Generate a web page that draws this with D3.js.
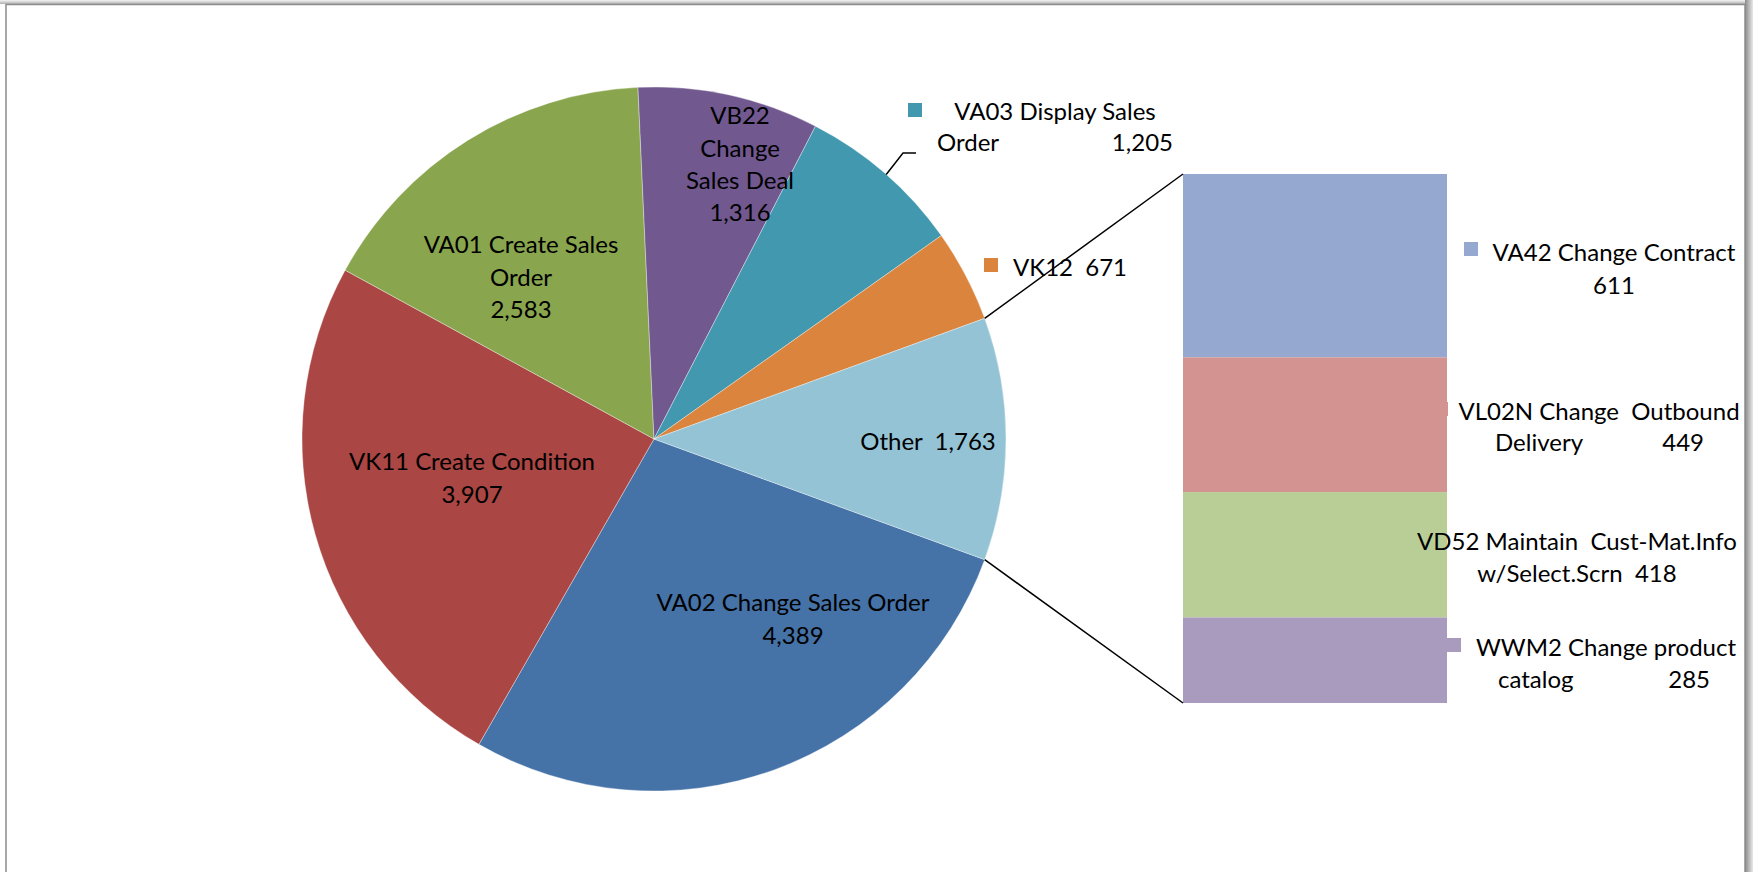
<!DOCTYPE html>
<html><head><meta charset="utf-8">
<script src="https://cdn.jsdelivr.net/npm/d3@7"></script>
<style>
html,body{margin:0;padding:0;background:#fff;}
svg{display:block;}
text{font-family:Lato, "Liberation Sans", sans-serif;fill:#000;white-space:pre;}
</style></head>
<body>
<svg id="chart" width="1753" height="872"></svg>
<script>
// ---- data ----
const pieCategories = ["VA02 Change Sales Order","VK11 Create Condition","VA01 Create Sales Order","VB22 Change Sales Deal","VA03 Display Sales Order","VK12","Other"];
const pieValues = [4389, 3907, 2583, 1316, 1205, 671, 1763];
const barCategories = ["VA42 Change Contract","VL02N Change Outbound Delivery","VD52 Maintain Cust-Mat.Info w/Select.Scrn","WWM2 Change product catalog"];
const barValues = [611, 449, 418, 285];
const pieColors = ["#4572A7","#AA4643","#89A54E","#71588F","#4198AF","#DB843D","#93C3D5"];
const barColors = ["#95A9D0","#D39391","#B9CE97","#A99BBE"];

const svg = d3.select("#chart");
const W = 1753, H = 872;
const fmt = d3.format(",");
const FS = 24;

// frame with shadow
const defs = svg.append("defs");
const gR = defs.append("linearGradient").attr("id","shR").attr("x1",0).attr("x2",1).attr("y1",0).attr("y2",0);
gR.append("stop").attr("offset",0).attr("stop-color","#8a8a8a");
gR.append("stop").attr("offset",1).attr("stop-color","#e8e8e8");
const gT = defs.append("linearGradient").attr("id","shT").attr("x1",0).attr("x2",0).attr("y1",1).attr("y2",0);
gT.append("stop").attr("offset",0).attr("stop-color","#b0b0b0");
gT.append("stop").attr("offset",1).attr("stop-color","#f4f4f4");
svg.append("rect").attr("x",0).attr("y",0).attr("width",W).attr("height",4).attr("fill","url(#shT)");
svg.append("rect").attr("x",1745).attr("y",0).attr("width",8).attr("height",H).attr("fill","url(#shR)");
svg.append("rect").attr("x",6).attr("y",4.5).attr("width",1739).attr("height",H+20)
  .attr("fill","#fff").attr("stroke","#8c8c8c").attr("stroke-width",1.5);

// ---- pie ----
const cx = 654, cy = 439, R = 352;
const total = d3.sum(pieValues);
const otherAngle = 2*Math.PI*pieValues[6]/total;
const start = Math.PI/2 + otherAngle/2;
const pie = d3.pie().sort(null).value(d=>d).startAngle(start).endAngle(start+2*Math.PI);
const arcs = pie(pieValues);
const arc = d3.arc().innerRadius(0).outerRadius(R);
const gp = svg.append("g").attr("transform",`translate(${cx},${cy})`);
gp.selectAll("path").data(arcs).join("path")
  .attr("d",arc).attr("fill",(d,i)=>pieColors[i])
  .attr("stroke","#ffffff").attr("stroke-width",0.6).attr("stroke-opacity",0.6);

// ---- bar of pie ----
const barX0 = 1183, barX1 = 1447, barTop = 174, barBot = 703;
const barTotal = d3.sum(barValues);
const y = d3.scaleLinear().domain([0, barTotal]).range([barTop, barBot]);
const cum = barValues.map((v,i)=>d3.sum(barValues.slice(0,i)));

// legend swatches for bar items (drawn before bar, bar covers some)
const barSwatch = [[1464,242],[1434,402],[1394,535],[1447,638]];
svg.selectAll("rect.bsw").data(barValues).join("rect").attr("class","bsw")
  .attr("x",(d,i)=>barSwatch[i][0]).attr("y",(d,i)=>barSwatch[i][1])
  .attr("width",14).attr("height",14).attr("fill",(d,i)=>barColors[i]);

svg.selectAll("rect.bar").data(barValues).join("rect").attr("class","bar")
  .attr("x",barX0).attr("width",barX1-barX0)
  .attr("y",(d,i)=>y(cum[i])).attr("height",d=>y(d)-y(0))
  .attr("fill",(d,i)=>barColors[i]);

// connector lines
const oa = arcs[6];
const pt = a => [cx + R*Math.sin(a), cy - R*Math.cos(a)];
const p1 = pt(oa.startAngle), p2 = pt(oa.endAngle);
svg.append("line").attr("x1",p1[0]).attr("y1",p1[1]).attr("x2",barX0).attr("y2",y(0)).attr("stroke","#000").attr("stroke-width",1.5);
svg.append("line").attr("x1",p2[0]).attr("y1",p2[1]).attr("x2",barX0).attr("y2",y(barTotal)).attr("stroke","#000").attr("stroke-width",1.5);

// ---- labels ----
function block(x, yc, lines, anchor="middle", lh=32.5){
  const t = svg.append("text").attr("font-size",FS).attr("text-anchor",anchor);
  lines.forEach((l,i)=>t.append("tspan").attr("x",x).attr("y",yc+i*lh).attr("dy","0.35em").text(l));
  return t;
}
// inside-pie labels
block(793, 603, ["VA02 Change Sales Order", fmt(pieValues[0])]);
block(472, 462, ["VK11 Create Condition", fmt(pieValues[1])]);
block(521, 245, ["VA01 Create Sales","Order", fmt(pieValues[2])]);
block(740, 116, ["VB22","Change","Sales Deal", fmt(pieValues[3])], "middle", 32.3);
block(928, 442, ["Other  " + fmt(pieValues[6])]);

// VA03 outside label with leader
const va03 = arcs[4];
const lp = pt(va03.startAngle + (va03.endAngle-va03.startAngle)*0.51);
svg.append("polyline").attr("points",`${lp[0]},${lp[1]} 903,153 916,153`).attr("fill","none").attr("stroke","#000").attr("stroke-width",1.5);
svg.append("rect").attr("x",908).attr("y",103).attr("width",14).attr("height",14).attr("fill",pieColors[4]);
block(1055, 112, ["VA03 Display Sales"]);
block(937, 143, ["Order"], "start");
block(1173, 143, [fmt(pieValues[4])], "end");

// VK12 label
svg.append("rect").attr("x",984).attr("y",258).attr("width",14).attr("height",14).attr("fill",pieColors[5]);
block(1013, 268, ["VK12  " + fmt(pieValues[5])], "start");

// bar labels
block(1614, 253, ["VA42 Change Contract", fmt(barValues[0])]);
block(1599, 412, ["VL02N Change  Outbound"]);
block(1495, 443, ["Delivery"], "start");
block(1704, 443, [fmt(barValues[1])], "end");
block(1577, 542, ["VD52 Maintain  Cust-Mat.Info", "w/Select.Scrn  " + fmt(barValues[2])], "middle", 32);
block(1606, 648, ["WWM2 Change product"]);
block(1498, 680, ["catalog"], "start");
block(1710, 680, [fmt(barValues[3])], "end");
</script>
</body></html>
